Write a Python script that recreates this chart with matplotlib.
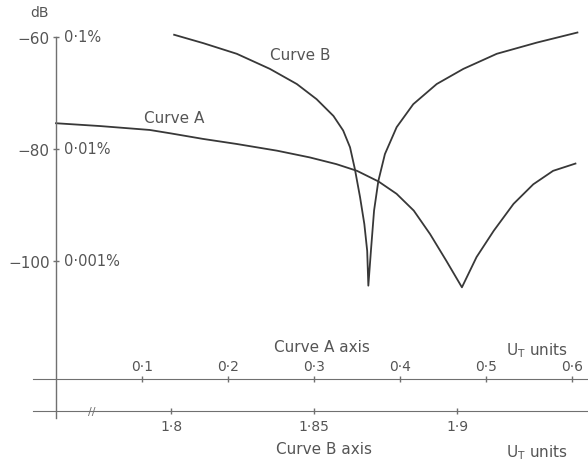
import matplotlib.pyplot as plt

# Curve A: x in U_T units on the "Curve A axis", y in dB
curve_a_x = [0.0, 0.051, 0.109, 0.133, 0.171, 0.210, 0.257, 0.295, 0.326, 0.350, 0.375,
             0.396, 0.416, 0.435, 0.454, 0.472, 0.489, 0.509, 0.532, 0.555, 0.578, 0.604]
curve_a_db = [-75.4, -75.9, -76.6, -77.2, -78.2, -79.1, -80.3, -81.5, -82.7, -83.9, -85.8,
              -88.0, -91.0, -95.2, -100.0, -104.7, -99.3, -94.6, -89.8, -86.3, -83.9, -82.6]

# Curve B: x in U_T units on the "Curve B axis", y in dB
curve_b_x = [1.8011, 1.8113, 1.8230, 1.8346, 1.8440, 1.8509, 1.8568, 1.8602, 1.8626,
             1.8643, 1.8661, 1.8676, 1.8686, 1.8690, 1.8699, 1.8710, 1.8725, 1.8748,
             1.8789, 1.8847, 1.8929, 1.9022, 1.9139, 1.9279, 1.9421]
curve_b_db = [-59.6, -61.1, -63.0, -65.7, -68.4, -71.1, -74.1, -76.7, -79.7,
              -83.6, -88.6, -93.4, -98.2, -104.4, -98.2, -91.0, -85.7, -80.9,
              -76.1, -72.0, -68.4, -65.7, -63.0, -61.0, -59.2]

db_ticks = [-60, -80, -100]
db_labels = ["\u221260", "\u221280", "\u2212100"]
pct_labels = ["0\u00b71%", "0\u00b701%", "0\u00b7001%"]

a_ticks = [0.1, 0.2, 0.3, 0.4, 0.5, 0.6]
a_labels = ["0\u00b71", "0\u00b72", "0\u00b73", "0\u00b74", "0\u00b75", "0\u00b76"]
b_ticks = [1.8, 1.85, 1.9]
b_labels = ["1\u00b78", "1\u00b785", "1\u00b79"]

LINE = "#383838"
TEXT = "#555555"
AXC = "#707070"

W, H = 588, 464
def fx(px):
    return px / W
def fy(py):
    return 1 - py / H

# scales (pixels per unit)
A0_PX, A_SCALE = 56, 860.0
B0_PX, B_SCALE = 171, 2860.0
DB_TOP_PX, DB_SCALE = 38, 5.6

fig = plt.figure(figsize=(W / 100, H / 100), dpi=100)
fig.patch.set_facecolor("white")

ax = fig.add_axes([fx(56), fy(419), fx(588) - fx(56), fy(38) - fy(419)])
ax.set_xlim(0, (588 - A0_PX) / A_SCALE)
ax.set_ylim(-60 - (419 - DB_TOP_PX) / DB_SCALE, -60)
ax.patch.set_visible(False)
for s in ["top", "right", "bottom"]:
    ax.spines[s].set_visible(False)
ax.spines["left"].set_color(AXC)
ax.spines["left"].set_linewidth(1.0)
ax.set_xticks([])
ax.set_yticks(db_ticks, db_labels)
ax.tick_params(axis="y", direction="inout", length=5, width=1, color=AXC,
               labelcolor=TEXT, labelsize=11, pad=2)
ax.plot(curve_a_x, curve_a_db, color=LINE, lw=1.3, clip_on=False,
        solid_joinstyle="round")

for d, t in zip(db_ticks, pct_labels):
    ax.annotate(t, xy=(0, d), xycoords=("axes fraction", "data"), xytext=(6, 0),
                textcoords="offset points", ha="left", va="center",
                color=TEXT, fontsize=10.5)
ax.annotate("dB", xy=(0, -60), xycoords=("axes fraction", "data"), xytext=(-12, 18),
            textcoords="offset points", ha="center", va="center",
            color=TEXT, fontsize=10)

ax.text(0.137, -74.3, "Curve A", color=TEXT, fontsize=11, ha="center", va="center")

axb = ax.twiny()
axb.set_xlim(1.8 - (B0_PX - 56) / B_SCALE, 1.8 + (588 - B0_PX) / B_SCALE)
axb.axis("off")
axb.plot(curve_b_x, curve_b_db, color=LINE, lw=1.3, clip_on=False,
         solid_joinstyle="round")
axb.text(1.8452, -63.2, "Curve B", color=TEXT, fontsize=11, ha="center", va="center")

# Curve A axis
ax_a = fig.add_axes([fx(33), fy(380), fx(588) - fx(33), 1e-4])
ax_a.set_xlim(-(A0_PX - 33) / A_SCALE, (588 - A0_PX) / A_SCALE)
ax_a.patch.set_visible(False)
for s in ["top", "right", "left"]:
    ax_a.spines[s].set_visible(False)
ax_a.spines["bottom"].set_color(AXC)
ax_a.set_yticks([])
ax_a.set_xticks(a_ticks, a_labels)
ax_a.tick_params(axis="x", direction="inout", length=4, width=1, color=AXC,
                 labelcolor=TEXT, labelsize=10, top=False, bottom=True,
                 labeltop=True, labelbottom=False, pad=2)

# Curve B axis
ax_b = fig.add_axes([fx(33), fy(412), fx(588) - fx(33), 1e-4])
ax_b.set_xlim(1.8 - (B0_PX - 33) / B_SCALE, 1.8 + (588 - B0_PX) / B_SCALE)
ax_b.patch.set_visible(False)
for s in ["top", "right", "left"]:
    ax_b.spines[s].set_visible(False)
ax_b.spines["bottom"].set_color(AXC)
ax_b.set_yticks([])
ax_b.set_xticks(b_ticks, b_labels)
ax_b.tick_params(axis="x", direction="inout", length=4, width=1, color=AXC,
                 labelcolor=TEXT, labelsize=10, pad=4)
ax_b.text(1.7724, 0, "//", color=AXC, fontsize=8, ha="center", va="center",
          transform=ax_b.get_xaxis_transform())

fig.text(fx(322), fy(348), "Curve A axis", color=TEXT, fontsize=11, ha="center", va="center")
fig.text(fx(537), fy(351), r"U$_\mathrm{T}$ units", color=TEXT, fontsize=11, ha="center", va="center")
fig.text(fx(324), fy(450), "Curve B axis", color=TEXT, fontsize=11, ha="center", va="center")
fig.text(fx(537), fy(453), r"U$_\mathrm{T}$ units", color=TEXT, fontsize=11, ha="center", va="center")

fig.savefig("out.png", dpi=100)
